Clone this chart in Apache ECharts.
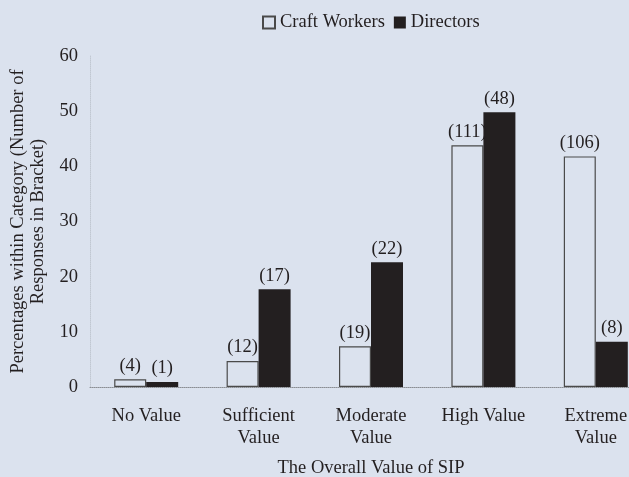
<!DOCTYPE html>
<html>
<head>
<meta charset="utf-8">
<script src="https://cdn.jsdelivr.net/npm/echarts@6/dist/echarts.min.js"></script>
<style>
    html, body { margin: 0; padding: 0; background: #dbe2ee; }
    #chart { width: 629px; height: 477px; }
</style>
</head>
<body>
<div id="chart"></div>
<script>
    var categories = ['No Value', 'Sufficient\nValue', 'Moderate\nValue', 'High Value', 'Extreme\nValue'];
    var craftValues = [1.4, 4.7, 7.4, 43.8, 41.8];
    var directorValues = [0.9, 17.7, 22.6, 49.8, 8.2];
    var craftCounts = [4, 12, 19, 111, 106];
    var directorCounts = [1, 17, 22, 48, 8];
    var yTicks = { min: 0, max: 60, interval: 10 };

    var bg = '#dbe2ee';
    var ink = '#231f20';
    var font = '"Liberation Serif", "DejaVu Serif", serif';
    var fs = 18.5;

    function countLabel(counts) {
        return {
            show: true,
            position: 'top',
            distance: 4,
            fontFamily: font,
            fontSize: fs,
            color: ink,
            formatter: function (p) { return '(' + counts[p.dataIndex] + ')'; }
        };
    }

    var chart = echarts.init(document.getElementById('chart'));
    chart.setOption({
        backgroundColor: bg,
        animation: false,
        textStyle: { fontFamily: font },
        legend: {
            top: 8,
            left: 257,
            itemWidth: 12,
            itemHeight: 12,
            itemGap: 9,
            icon: 'rect',
            textStyle: { fontFamily: font, fontSize: fs, color: ink, padding: [0, 0, 0, 0] },
            data: ['Craft Workers', 'Directors']
        },
        grid: { left: 90, right: -23, top: 56, bottom: 90, outerBoundsMode: 'none' },
        xAxis: {
            type: 'category',
            data: categories,
            name: 'The Overall Value of SIP',
            nameLocation: 'middle',
            nameGap: 72,
            nameTextStyle: { fontFamily: font, fontSize: fs, color: ink },
            axisLine: { lineStyle: { color: '#8a8d93', type: 'dotted', width: 1 } },
            axisTick: { show: false },
            axisLabel: { fontFamily: font, fontSize: fs, color: ink, lineHeight: 22, margin: 18, interval: 0 }
        },
        yAxis: {
            type: 'value',
            min: yTicks.min,
            max: yTicks.max,
            interval: yTicks.interval,
            name: 'Percentages within Category (Number of\nResponses in Bracket)',
            nameLocation: 'middle',
            nameGap: 40,
            nameTextStyle: { fontFamily: font, fontSize: fs, color: ink, lineHeight: 20 },
            axisLine: { show: true, lineStyle: { color: '#c2c8d2', type: 'dotted', width: 1 } },
            axisTick: { show: false },
            splitLine: { show: false },
            axisLabel: { fontFamily: font, fontSize: fs, color: ink, margin: 12 }
        },
        series: [
            {
                name: 'Craft Workers',
                type: 'bar',
                barWidth: 32,
                barGap: '0%',
                data: craftValues,
                itemStyle: { color: bg, borderColor: '#4a4a4a', borderWidth: 1.2 },
                label: countLabel(craftCounts)
            },
            {
                name: 'Directors',
                type: 'bar',
                barWidth: 32,
                data: directorValues,
                itemStyle: { color: ink },
                label: countLabel(directorCounts)
            }
        ]
    });
</script>
</body>
</html>
